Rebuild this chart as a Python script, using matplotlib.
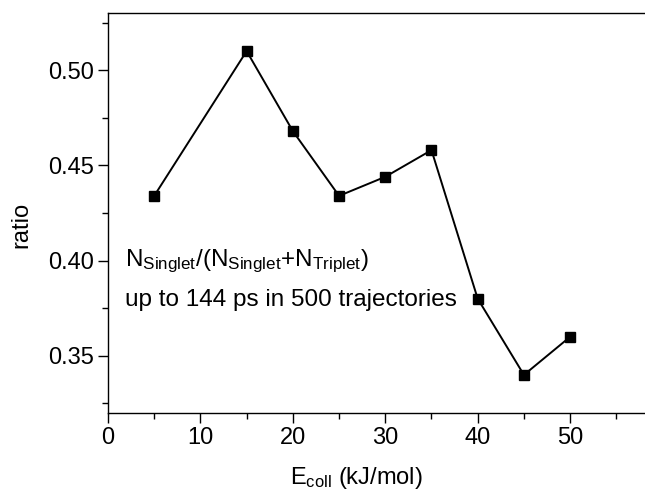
import matplotlib
matplotlib.use('Agg')
import matplotlib.pyplot as plt
from matplotlib.ticker import MultipleLocator

plt.rcParams['font.family'] = ['Liberation Sans', 'DejaVu Sans']
plt.rcParams['mathtext.default'] = 'regular'

# данные
e_coll = [5, 15, 20, 25, 30, 35, 40, 45, 50]
ratio = [0.434, 0.510, 0.468, 0.434, 0.444, 0.458, 0.380, 0.340, 0.360]

fig = plt.figure(figsize=(6.45, 4.95), dpi=100)
ax = fig.add_axes([108 / 645, 1 - 413 / 495, 1 - 108 / 645, 400 / 495])

ax.plot(e_coll, ratio, color='black', lw=1.4, marker='s', ms=6.5, mfc='black', mec='black')

ax.set_xlim(0, 58.1)
ax.set_ylim(0.320, 0.530)
ax.xaxis.set_major_locator(MultipleLocator(10))
ax.xaxis.set_minor_locator(MultipleLocator(5))
ax.yaxis.set_major_locator(MultipleLocator(0.05))
ax.yaxis.set_minor_locator(MultipleLocator(0.025))
ax.yaxis.set_major_formatter(plt.FormatStrFormatter('%.2f'))
ax.tick_params(which='major', direction='out', length=7, width=1, labelsize=17, pad=3)
ax.tick_params(which='minor', direction='out', length=4, width=1)
ax.spines['right'].set_visible(False)
for s in ['left', 'bottom', 'top']:
    ax.spines[s].set_linewidth(1)

ax.set_ylabel('ratio', fontsize=17)
ax.yaxis.set_label_coords((32 - 108) / 537, 0.47)
ax.set_xlabel(r'E$_{coll}$ (kJ/mol)', fontsize=17)
ax.xaxis.set_label_coords((356 - 108) / 537, -0.13)

ax.text(1.8, 0.397, r'N$_{Singlet}$/(N$_{Singlet}$+N$_{Triplet}$)', fontsize=17.5, va='baseline')
ax.text(1.8, 0.376, 'up to 144 ps in 500 trajectories', fontsize=17.5, va='baseline')

plt.savefig('out.png', dpi=100)
